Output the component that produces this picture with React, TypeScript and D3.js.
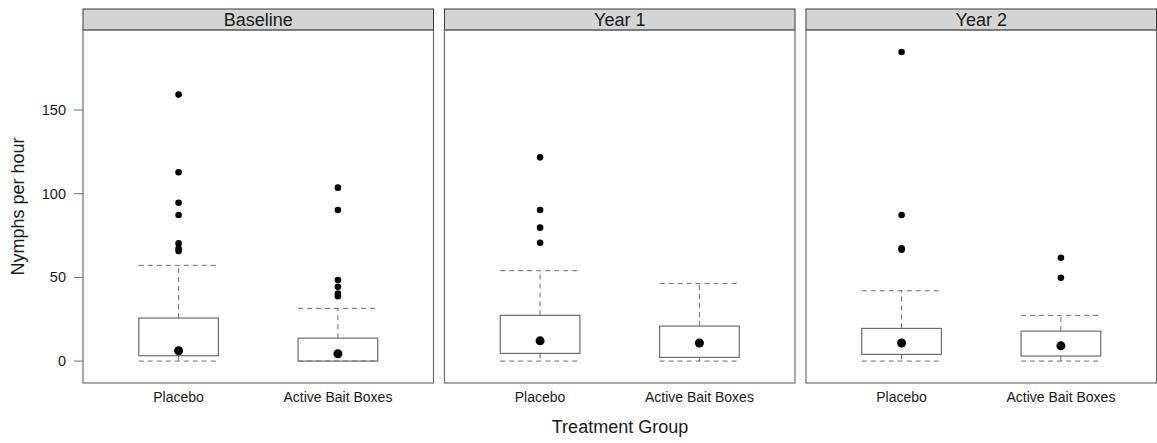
import React from "react";
import * as d3 from "d3";

const panels = ["Baseline", "Year 1", "Year 2"];
const groups = ["Placebo", "Active Bait Boxes"];

// [panel][group]
const lowerWhisker = [[0, 0], [0, 0], [0, 0]];
const q1 = [[3.2, 0], [4.6, 2.2], [4.0, 3.0]];
const median = [[6.2, 4.4], [12.1, 10.8], [10.8, 9.1]];
const q3 = [[25.7, 13.7], [27.3, 20.9], [19.5, 17.9]];
const upperWhisker = [[57.2, 31.5], [54, 46.4], [42, 27.3]];
const outliers = [
  [
    [159.2, 112.8, 94.6, 87.3, 70.3, 67.2, 65.7],
    [103.6, 90.3, 48.4, 44.4, 40.4, 38.8],
  ],
  [
    [121.7, 90.3, 79.7, 70.7],
    [],
  ],
  [
    [184.7, 87.3, 67.4, 66.5],
    [61.7, 49.8],
  ],
];
const yTicks = [0, 50, 100, 150];

const width = 1157;
const height = 443;
const left = 83;
const panelW = 350.5;
const gap = 11;
const top = 9;
const stripH = 21;
const bottom = 383;
const font = "Liberation Sans, Arial, sans-serif";
const gray = "#6e6e6e";

export default function App() {
  const y = d3.scaleLinear().domain([-13.1, 197.8]).range([bottom, top + stripH]);
  const x = d3.scaleLinear().domain([0.4, 2.6]).range([0, panelW]);
  const boxW = x(1.25) - x(0.75);

  return (
    <div style={{ position: "fixed", left: 0, top: 0 }}>
      <svg width={width} height={height} style={{ display: "block" }} fontFamily={font}>
        <rect width={width} height={height} fill="#fff" />
        {/* y axis */}
        {yTicks.map((t) => (
          <g key={t}>
            <line x1={left - 9} x2={left} y1={y(t)} y2={y(t)} stroke={gray} />
            <text x={left - 17} y={y(t)} dy="0.35em" textAnchor="end" fontSize={14.5} fill="#1a1a1a">
              {t}
            </text>
          </g>
        ))}
        <text
          transform={`translate(24,${(top + stripH + bottom) / 2}) rotate(-90)`}
          textAnchor="middle"
          fontSize={18}
          fill="#1a1a1a"
        >
          Nymphs per hour
        </text>
        {panels.map((p, i) => {
          const x0 = left + i * (panelW + gap);
          return (
            <g key={p} transform={`translate(${x0},0)`}>
              <rect x={0} y={top} width={panelW} height={stripH} fill="#d4d4d4" stroke="#3a3a3a" />
              <text x={panelW / 2} y={top + stripH / 2} dy="0.36em" textAnchor="middle" fontSize={18} fill="#1a1a1a">
                {p}
              </text>
              <rect x={0} y={top + stripH} width={panelW} height={bottom - top - stripH} fill="none" stroke={gray} strokeWidth={1.2} />
              {groups.map((g, j) => {
                const cx = x(j + 1);
                return (
                  <g key={g}>
                    <line x1={cx} x2={cx} y1={y(q3[i][j])} y2={y(upperWhisker[i][j])} stroke={gray} strokeDasharray="5,4" />
                    <line x1={cx} x2={cx} y1={y(q1[i][j])} y2={y(lowerWhisker[i][j])} stroke={gray} strokeDasharray="5,4" />
                    <line x1={cx - boxW / 2} x2={cx + boxW / 2} y1={y(upperWhisker[i][j])} y2={y(upperWhisker[i][j])} stroke={gray} strokeDasharray="5,4" />
                    <line x1={cx - boxW / 2} x2={cx + boxW / 2} y1={y(lowerWhisker[i][j])} y2={y(lowerWhisker[i][j])} stroke={gray} strokeDasharray="5,4" />
                    <rect
                      x={cx - boxW / 2}
                      y={y(q3[i][j])}
                      width={boxW}
                      height={y(q1[i][j]) - y(q3[i][j])}
                      fill="none"
                      stroke={gray}
                      strokeWidth={1.2}
                    />
                    <circle cx={cx} cy={y(median[i][j])} r={4.5} fill="#000" />
                    {outliers[i][j].map((v, k) => (
                      <circle key={k} cx={cx} cy={y(v)} r={3.3} fill="#000" />
                    ))}
                    <text x={cx} y={397} dy="0.35em" textAnchor="middle" fontSize={14} fill="#1a1a1a">
                      {g}
                    </text>
                  </g>
                );
              })}
            </g>
          );
        })}
        <text x={620} y={427} dy="0.35em" textAnchor="middle" fontSize={18} fill="#1a1a1a">
          Treatment Group
        </text>
      </svg>
    </div>
  );
}
